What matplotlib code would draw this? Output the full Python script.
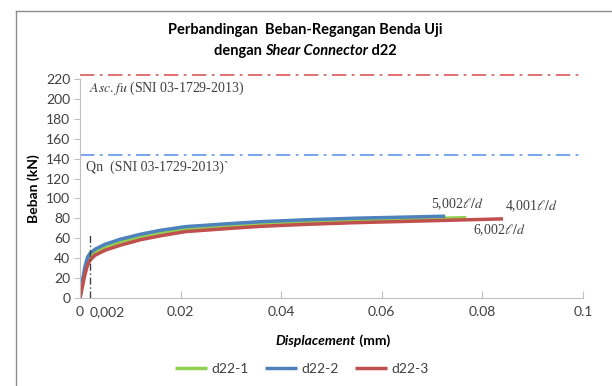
import matplotlib
matplotlib.use("Agg")
import matplotlib.pyplot as plt
from matplotlib.lines import Line2D

plt.rcParams['font.family'] = ['Lato', 'DejaVu Sans']
plt.rcParams['mathtext.fontset'] = 'stix'

# data
x_d22_1 = [0, 0.0005, 0.001, 0.0015, 0.002, 0.003, 0.005, 0.008, 0.012, 0.016, 0.021, 0.03, 0.036, 0.045, 0.055, 0.065, 0.0768]
y_d22_1 = [0, 15, 28, 37, 41.5, 46, 51, 56.5, 61.5, 65.5, 69, 72.5, 74.3, 76.5, 78.2, 79.3, 80.7]
x_d22_2 = [0, 0.0005, 0.001, 0.0015, 0.002, 0.003, 0.005, 0.008, 0.012, 0.016, 0.021, 0.03, 0.036, 0.045, 0.055, 0.065, 0.0726]
y_d22_2 = [0, 18, 32, 41, 45, 49, 54, 59, 64, 68, 71.7, 74.8, 76.7, 78.6, 80.2, 81.3, 82.2]
x_d22_3 = [0, 0.0005, 0.001, 0.0015, 0.002, 0.003, 0.005, 0.008, 0.012, 0.016, 0.021, 0.03, 0.036, 0.045, 0.055, 0.065, 0.075, 0.0841]
y_d22_3 = [0, 12, 24, 33, 38, 43, 48, 53, 58.5, 62.5, 66.7, 70, 72, 74, 75.7, 77, 78.3, 79.5]

asc_fu = 224
qn = 144
yield_disp = 0.002
yield_top = 64

xticks = [0, 0.02, 0.04, 0.06, 0.08, 0.1]
xticklabels = ['0', '0.02', '0.04', '0.06', '0.08', '0.1']
yticks = list(range(0, 221, 20))

fig = plt.figure(figsize=(6.12, 3.86), dpi=100)
ax = fig.add_axes([80/612, 1-298/386, (583-80)/612, (298-79)/386])

# frame border of chart area
fig.add_artist(Line2D([16/612, 16/612], [0, 1-11/386], transform=fig.transFigure, color='#8c8c8c', lw=1))
fig.add_artist(Line2D([16/612, 1], [1-11/386, 1-11/386], transform=fig.transFigure, color='#8c8c8c', lw=1))

ax.plot(x_d22_1, y_d22_1, color='#92D050', lw=2.5, label='d22-1', solid_capstyle='butt')
ax.plot(x_d22_2, y_d22_2, color='#4F81BD', lw=2.5, label='d22-2', solid_capstyle='butt')
ax.plot(x_d22_3, y_d22_3, color='#C0504D', lw=2.5, label='d22-3', solid_capstyle='butt')

ax.plot([0, 0.1], [asc_fu, asc_fu], color='#E06666', lw=1.3, ls=(0, (8, 3, 1.5, 3)), clip_on=False)
ax.plot([0, 0.1], [qn, qn], color='#6D9EEB', lw=1.3, ls=(0, (8, 3, 1.5, 3)), clip_on=False)
ax.plot([yield_disp, yield_disp], [0, yield_top], color='#404040', lw=1, ls=(0, (5, 2, 1, 2)))

ax.set_xlim(0, 0.1)
ax.set_ylim(0, 220)
ax.set_xticks(xticks)
ax.set_xticklabels(xticklabels)
ax.set_xticks([yield_disp], minor=True)
ax.set_yticks(yticks)

for s in ['top', 'right']:
    ax.spines[s].set_visible(False)
for s in ['left', 'bottom']:
    ax.spines[s].set_color('#bfbfbf')
ax.tick_params(axis='y', direction='out', length=4, color='#bfbfbf', labelsize=10, labelcolor='#404040', pad=3)
ax.tick_params(axis='x', which='both', direction='in', length=5, color='#bfbfbf', labelsize=10, labelcolor='#404040', pad=6)

ax.text(0.0019, -8.2, '0,002', fontsize=10, color='#404040', va='top', ha='left')

ax.set_ylabel('Beban (kN)', fontsize=10, fontweight='bold', labelpad=4)
r = fig.canvas.get_renderer()
# x-label with mixed style
t1 = fig.text(0, 0, 'Displacement', fontsize=10, fontweight='bold', style='italic')
t2 = fig.text(0, 0, ' (mm)', fontsize=10, fontweight='bold')
fig.canvas.draw()
w1 = t1.get_window_extent(r).width
w2 = t2.get_window_extent(r).width
cx = 333
ypix = 386 - 341
t1.set_position(((cx - (w1 + w2) / 2) / 612, ypix / 386))
t2.set_position(((cx - (w1 + w2) / 2 + w1) / 612, ypix / 386))
t1.set_va('center'); t2.set_va('center')

# title
fig.text(305/612, 1 - 30/386, 'Perbandingan  Beban-Regangan Benda Uji', ha='center', va='center', fontsize=10.5, fontweight='bold')
s1 = fig.text(0, 0, 'dengan ', fontsize=10.5, fontweight='bold', va='center')
s2 = fig.text(0, 0, 'Shear Connector', fontsize=10.5, fontweight='bold', style='italic', va='center')
s3 = fig.text(0, 0, ' d22', fontsize=10.5, fontweight='bold', va='center')
fig.canvas.draw()
ws = [s.get_window_extent(r).width for s in (s1, s2, s3)]
x0 = 305 - sum(ws) / 2
for s, w in zip((s1, s2, s3), ws):
    s.set_position((x0 / 612, 1 - 51/386))
    x0 += w

serif = ['Liberation Serif', 'DejaVu Serif']
ax.text(0.0018, 211, r'$Asc.fu$ (SNI 03-1729-2013)', fontsize=10, family=serif, color='#404040', va='center')
ax.text(0.0012, 131, 'Qn  (SNI 03-1729-2013)`', fontsize=10, family=serif, color='#404040', va='center')
ax.text(0.0697, 94, r'5,002$\ell/d$', fontsize=10, family=serif, color='#404040', va='center')
ax.text(0.0845, 92, r'4,001$\ell/d$', fontsize=10, family=serif, color='#404040', va='center')
ax.text(0.0782, 68, r'6,002$\ell/d$', fontsize=10, family=serif, color='#404040', va='center')

leg = fig.legend(loc='center', bbox_to_anchor=(302/612, 1 - 369/386), ncol=3, frameon=False,
                 fontsize=10, handlelength=2.3, handletextpad=0.3, columnspacing=1.2)
for txt in leg.get_texts():
    txt.set_color('#404040')

fig.savefig('out.png', dpi=100)
